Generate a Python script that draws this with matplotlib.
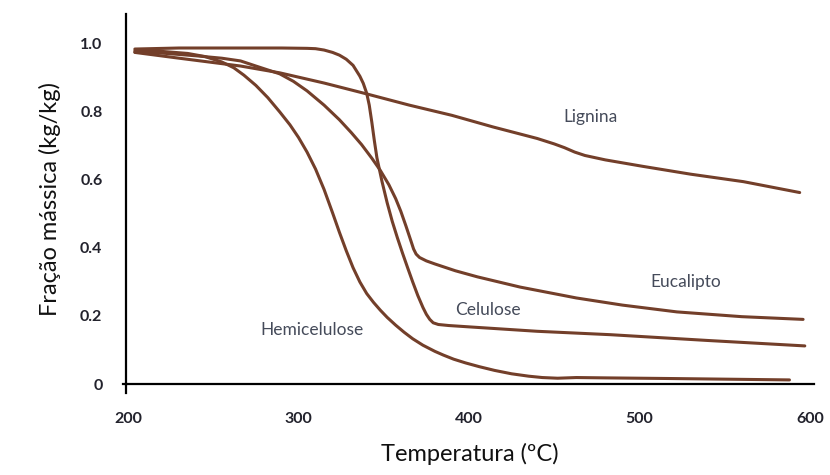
import numpy as np
import matplotlib
matplotlib.use("Agg")
import matplotlib.pyplot as plt

# =====================================================
# dados (temperatura em ºC, fração mássica)
# =====================================================
cel_T = [204, 230, 260, 290, 305, 310, 315, 320, 324, 328, 332, 336, 338, 340,
         341.5, 343, 344.5, 346, 349, 352, 355, 358, 361, 364, 367, 370, 373,
         375, 377, 379, 382, 388, 400, 440, 483, 540, 597]
cel_m = [0.985, 0.988, 0.988, 0.988, 0.987, 0.986, 0.982, 0.975, 0.967, 0.955,
         0.937, 0.905, 0.884, 0.855, 0.82, 0.77, 0.715, 0.665, 0.595, 0.533,
         0.478, 0.43, 0.385, 0.342, 0.30, 0.26, 0.225, 0.205, 0.19, 0.18, 0.175,
         0.172, 0.168, 0.155, 0.145, 0.128, 0.112]

euc_T = [204, 220, 240, 255, 266, 275, 289, 297, 305, 315, 324, 331, 337, 343,
         348, 353, 357, 360, 363, 366, 367.5, 369, 371, 375, 380, 392, 405, 430,
         463, 490, 522, 560, 596]
euc_m = [0.976, 0.973, 0.965, 0.958, 0.95, 0.935, 0.912, 0.89, 0.862, 0.82,
         0.777, 0.739, 0.704, 0.664, 0.628, 0.586, 0.545, 0.508, 0.465, 0.42,
         0.397, 0.382, 0.372, 0.362, 0.353, 0.333, 0.315, 0.285, 0.253, 0.232,
         0.212, 0.198, 0.19]

lig_T = [204, 230, 266, 289, 315, 340, 365, 390, 414, 440, 450, 456, 462, 468,
         480, 502, 530, 561, 594]
lig_m = [0.975, 0.958, 0.935, 0.915, 0.885, 0.853, 0.82, 0.79, 0.756, 0.722,
         0.706, 0.695, 0.682, 0.672, 0.659, 0.64, 0.617, 0.595, 0.563]

hem_T = [204, 220, 235, 245, 255, 262, 268, 275, 282, 289, 295, 300, 305, 310,
         315, 320, 324, 328, 332, 336, 340, 344, 348, 352, 357, 362, 367, 373,
         380, 385, 391, 398, 406, 415, 425, 435, 443, 452, 463, 480, 520, 588]
hem_m = [0.98, 0.978, 0.972, 0.963, 0.947, 0.93, 0.908, 0.878, 0.842, 0.80,
         0.762, 0.725, 0.682, 0.632, 0.572, 0.503, 0.446, 0.392, 0.342, 0.30,
         0.266, 0.24, 0.217, 0.196, 0.173, 0.152, 0.133, 0.114, 0.096, 0.085,
         0.073, 0.062, 0.051, 0.04, 0.03, 0.023, 0.019, 0.017, 0.019, 0.018,
         0.016, 0.012]

x_ticks = [200, 300, 400, 500, 600]
y_ticks = [0, 0.2, 0.4, 0.6, 0.8, 1.0]
y_labels = ["0", "0.2", "0.4", "0.6", "0.8", "1.0"]

# rótulos das curvas: (texto, T, m)
rotulos = [
    ("Lignina", 471, 0.785),
    ("Eucalipto", 527, 0.30),
    ("Celulose", 411, 0.218),
    ("Hemicelulose", 308, 0.159),
]

# =====================================================
# figura
# =====================================================
plt.rcParams['font.family'] = ['Lato', 'DejaVu Sans']

cor_linha = '#733f2a'
cor_texto = '#454b5a'

fig = plt.figure(figsize=(8.3, 4.75), dpi=100)
ax = fig.add_axes([126 / 830, 91 / 475, 688 / 830, 370 / 475])

for T, m in [(cel_T, cel_m), (euc_T, euc_m), (lig_T, lig_m), (hem_T, hem_m)]:
    ax.plot(T, m, color=cor_linha, lw=2.2, solid_capstyle='round',
            solid_joinstyle='round')

for txt, T, m in rotulos:
    ax.text(T, m, txt, ha='center', va='center', fontsize=12.5, color=cor_texto)

ax.set_xlim(198.8, 602.4)
ax.set_ylim(0, 1.088)

ax.spines['top'].set_visible(False)
ax.spines['right'].set_visible(False)
ax.spines['left'].set_linewidth(1.6)
ax.spines['bottom'].set_linewidth(1.6)

ax.set_xticks(x_ticks)
ax.set_yticks(y_ticks)
ax.set_yticklabels(y_labels)
ax.tick_params(axis='both', length=0, labelsize=11.5, colors='#22222c')
ax.tick_params(axis='x', pad=20)
ax.tick_params(axis='y', pad=17)
for lab in ax.get_xticklabels() + ax.get_yticklabels():
    lab.set_fontweight('bold')

# pequenos traços na origem
ax.plot([198.8, 198.8], [0, -0.025], color='black', lw=1.6, clip_on=False)
ax.plot([197.2, 198.8], [0, 0], color='black', lw=1.6, clip_on=False)

ax.set_xlabel("Temperatura (ºC)", fontsize=17, color='#111111', labelpad=12)
ax.set_ylabel("Fração mássica (kg/kg)", fontsize=17, color='#111111', labelpad=14)

fig.savefig("out.png", dpi=100, facecolor='white')
